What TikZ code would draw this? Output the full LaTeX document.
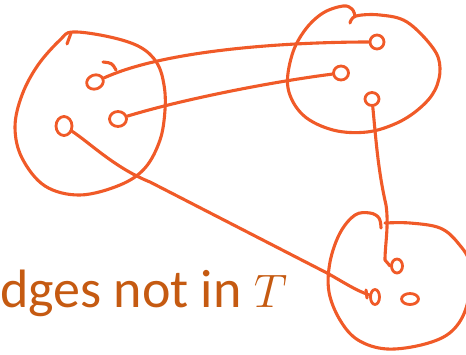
\RequirePackage{fix-cm}
\documentclass[tikz,border=0pt]{standalone}
\usepackage{fontspec}
\setmainfont{Carlito}
\usetikzlibrary{shapes.geometric}
\definecolor{ink}{HTML}{F05A28}
\definecolor{caption}{HTML}{C55A11}
\tikzset{
  pen/.style={draw=ink, line width=3.1pt, line cap=round, line join=round},
  vtx/.style={pen, ellipse, inner sep=0pt, line width=2.8pt}
}
\begin{document}
\begin{tikzpicture}[x=1pt, y=-1pt]
  \useasboundingbox (0,0) rectangle (466,354);
  % left component
  \draw[pen] plot[smooth cycle, tension=0.6] coordinates {(73,32) (110,37) (140,47) (157,63) (164,85) (165,110) (160,140) (145,168) (120,185) (80,195) (45,186) (22,158) (15,127) (22,95) (38,65) (60,40)};
  \draw[pen] (67,44) -- (71,33);
  \node[vtx, minimum width=17, minimum height=14, rotate=20] (a1) at (95,82) {};
  \node[vtx, minimum width=17, minimum height=15] (a2) at (118,119) {};
  \node[vtx, minimum width=16, minimum height=19] (a3) at (64,126) {};
  % top right component
  \draw[pen] plot[smooth, tension=0.6] coordinates {(350,23) (356,16) (380,15) (407,22) (433,48) (440,68) (435,90) (420,108) (397,123) (367,132) (333,130) (303,115) (288,88) (292,55) (305,30) (323,13) (343,6) (352,9) (355,16)};
  \node[vtx, minimum width=14, minimum height=14] (b1) at (377,42) {};
  \node[vtx, minimum width=15, minimum height=14] (b2) at (341,73) {};
  \node[vtx, minimum width=14, minimum height=13] (b3) at (372,99) {};
  % bottom right component
  \draw[pen] plot[smooth, tension=0.6] coordinates {(381,228) (379,218) (370,213) (355,215) (340,233) (330,262) (329,292) (340,320) (358,340) (387,349) (425,344) (452,331) (467,305) (470,265) (458,243) (440,228) (410,223) (385,223)};
  \node[vtx, minimum width=11, minimum height=14] (c1) at (397,266) {};
  \node[vtx, minimum width=9, minimum height=15] (c2) at (375,297) {};
  \node[vtx, minimum width=17, minimum height=11] (c3) at (410,299) {};
  % edges between components
  \draw[pen] (b1) .. controls (300,42) and (170,48) .. (a1);
  \draw[pen] (103,62) .. controls (112,63) .. (116,70);
  \draw[pen] (b2) .. controls (270,82) and (180,100) .. (a2);
  \draw[pen] (a3) .. controls (90,143) and (115,168) .. (150,182) -- (327,273) .. controls (345,283) and (355,290) .. (c2);
  \draw[pen] (366,290) -- (367,298);
  \draw[pen] (b3) .. controls (376,140) and (378,170) .. (386,205) .. controls (389,225) and (385,245) .. (385,260) -- (c1.west);
  % label
  \node[anchor=base west, inner sep=0pt, text=caption, font=\fontsize{54}{60}\selectfont] (lbl) at (0,307) {dges not in {\fontsize{47}{50}\selectfont$T$}};
\end{tikzpicture}
\end{document}
